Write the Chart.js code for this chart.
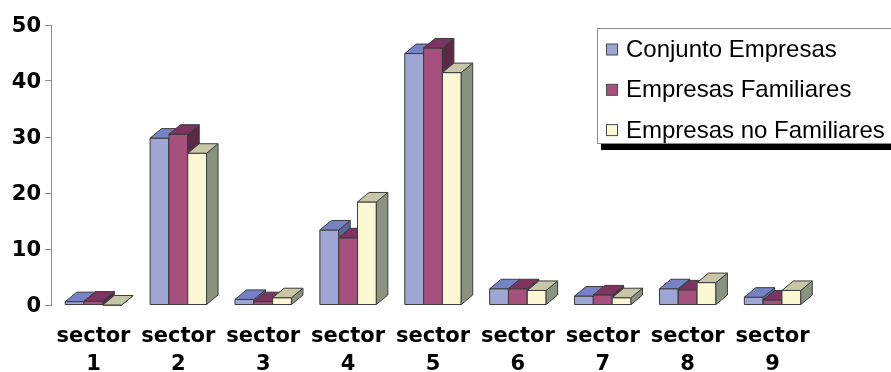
<!DOCTYPE html>
<html>
<head>
<meta charset="utf-8">
<title>Empresas por sector</title>
<script src="https://cdn.jsdelivr.net/npm/chart.js@4.4.1/dist/chart.umd.min.js"></script>
<style>
  html, body { margin: 0; padding: 0; background: #ffffff; }
  #wrap { width: 891px; height: 372px; }
</style>
</head>
<body>
<div id="wrap"><canvas id="chart" width="891" height="372"></canvas></div>
<script>
// Sector categories and the three series (percentages)
const categories = ['sector 1', 'sector 2', 'sector 3', 'sector 4', 'sector 5',
                    'sector 6', 'sector 7', 'sector 8', 'sector 9'];
const seriesNames = ['Conjunto Empresas', 'Empresas Familiares', 'Empresas no Familiares'];
const conjuntoEmpresas     = [0.6, 29.8, 1.0, 13.4, 44.9, 2.9, 1.6, 2.9, 1.4];
const empresasFamiliares   = [0.7, 30.5, 0.6, 12.0, 45.9, 2.9, 1.8, 2.7, 0.9];
const empresasNoFamiliares = [0.0, 27.1, 1.3, 18.4, 41.5, 2.6, 1.3, 4.0, 2.6];
const yTicks = [0, 10, 20, 30, 40, 50];

// Face shading for each series: front, top, right side
const faces = [
  { front: '#9ea6d3', top: '#7682c6', side: '#5b659e' },
  { front: '#a5507d', top: '#7d3460', side: '#5b2948' },
  { front: '#fcf8d4', top: '#c7c7a7', side: '#8a937e' }
];
const depth = { dx: 11.5, dy: 9.5 };
const edgeColor = '#3c3c3c';

function face(ctx, pts, fill) {
  ctx.beginPath();
  ctx.moveTo(pts[0][0], pts[0][1]);
  for (let k = 1; k < pts.length; k++) ctx.lineTo(pts[k][0], pts[k][1]);
  ctx.closePath();
  ctx.fillStyle = fill;
  ctx.fill();
  ctx.stroke();
}

// Extrudes every bar into a box: front, right side and top, drawn
// category by category and series by series so nearer faces overlap correctly.
const boxBars = {
  id: 'boxBars',
  afterDatasetsDraw(chart) {
    const ctx = chart.ctx;
    ctx.save();
    ctx.lineWidth = 1;
    ctx.strokeStyle = edgeColor;
    ctx.lineJoin = 'miter';
    const n = chart.data.labels.length;
    for (let i = 0; i < n; i++) {
      chart.data.datasets.forEach((ds, d) => {
        const bar = chart.getDatasetMeta(d).data[i];
        const p = bar.getProps(['x', 'y', 'base', 'width'], true);
        const l = p.x - p.width / 2, r = p.x + p.width / 2;
        const t = p.y, b = p.base;
        const f = faces[d];
        face(ctx, [[l, t], [r, t], [r, b], [l, b]], f.front);
        face(ctx, [[r, t], [r + depth.dx, t - depth.dy], [r + depth.dx, b - depth.dy], [r, b]], f.side);
        face(ctx, [[l, t], [l + depth.dx, t - depth.dy], [r + depth.dx, t - depth.dy], [r, t]], f.top);
      });
    }
    ctx.restore();
  }
};

// Boxed legend with a drop shadow, placed over the upper right of the plot
const boxLegend = {
  id: 'boxLegend',
  afterDraw(chart) {
    const ctx = chart.ctx;
    const left = 597, top = 28, w = 320, h = 115;
    ctx.save();
    ctx.fillStyle = '#000000';
    ctx.fillRect(left + 4, top + 7, w, h);
    ctx.fillStyle = '#ffffff';
    ctx.fillRect(left, top, w, h);
    ctx.strokeStyle = '#8c8c8c';
    ctx.lineWidth = 1;
    ctx.strokeRect(left + 0.5, top + 0.5, w, h);
    ctx.font = '24px "Liberation Sans", Arial, sans-serif';
    ctx.textBaseline = 'middle';
    ctx.textAlign = 'left';
    chart.data.datasets.forEach((ds, d) => {
      const cy = top + 21.5 + d * 40.3;
      ctx.fillStyle = faces[d].front;
      ctx.fillRect(606.5, cy - 5.5, 11, 11);
      ctx.strokeStyle = '#4a4a4a';
      ctx.strokeRect(606.5, cy - 5.5, 11, 11);
      ctx.fillStyle = '#000000';
      ctx.fillText(ds.label, 626, cy + 1);
    });
    ctx.restore();
  }
};

const seriesValues = [conjuntoEmpresas, empresasFamiliares, empresasNoFamiliares];

new Chart(document.getElementById('chart'), {
  type: 'bar',
  data: {
    labels: categories.map(c => c.split(' ')),
    datasets: seriesValues.map((vals, d) => ({
      label: seriesNames[d],
      data: vals,
      backgroundColor: faces[d].front,
      borderWidth: 0,
      categoryPercentage: 0.665,
      barPercentage: 1.0
    }))
  },
  options: {
    responsive: false,
    animation: false,
    devicePixelRatio: 1,
    layout: { padding: { top: 25, right: 76, left: 0, bottom: 0 } },
    plugins: {
      legend: { display: false },
      tooltip: { enabled: false }
    },
    scales: {
      x: {
        grid: { display: false },
        border: { display: false },
        afterFit(scale) { scale.height = 67; },
        ticks: {
          color: '#000000',
          padding: 10,
          maxRotation: 0,
          autoSkip: false,
          font: { family: '"DejaVu Sans", Verdana, sans-serif', weight: 'bold', size: 21, lineHeight: 1.33 }
        }
      },
      y: {
        min: yTicks[0],
        max: yTicks[yTicks.length - 1],
        afterFit(scale) { scale.width = 51; },
        afterBuildTicks(scale) { scale.ticks = yTicks.map(v => ({ value: v })); },
        grid: { drawOnChartArea: false, drawTicks: true, tickLength: 6, color: '#8c8c8c' },
        border: { display: true, color: '#8c8c8c', width: 1 },
        ticks: {
          color: '#000000',
          padding: 4,
          labelOffset: 2,
          font: { family: '"DejaVu Sans", Verdana, sans-serif', weight: 'bold', size: 21 }
        }
      }
    }
  },
  plugins: [boxBars, boxLegend]
});
</script>
</body>
</html>
